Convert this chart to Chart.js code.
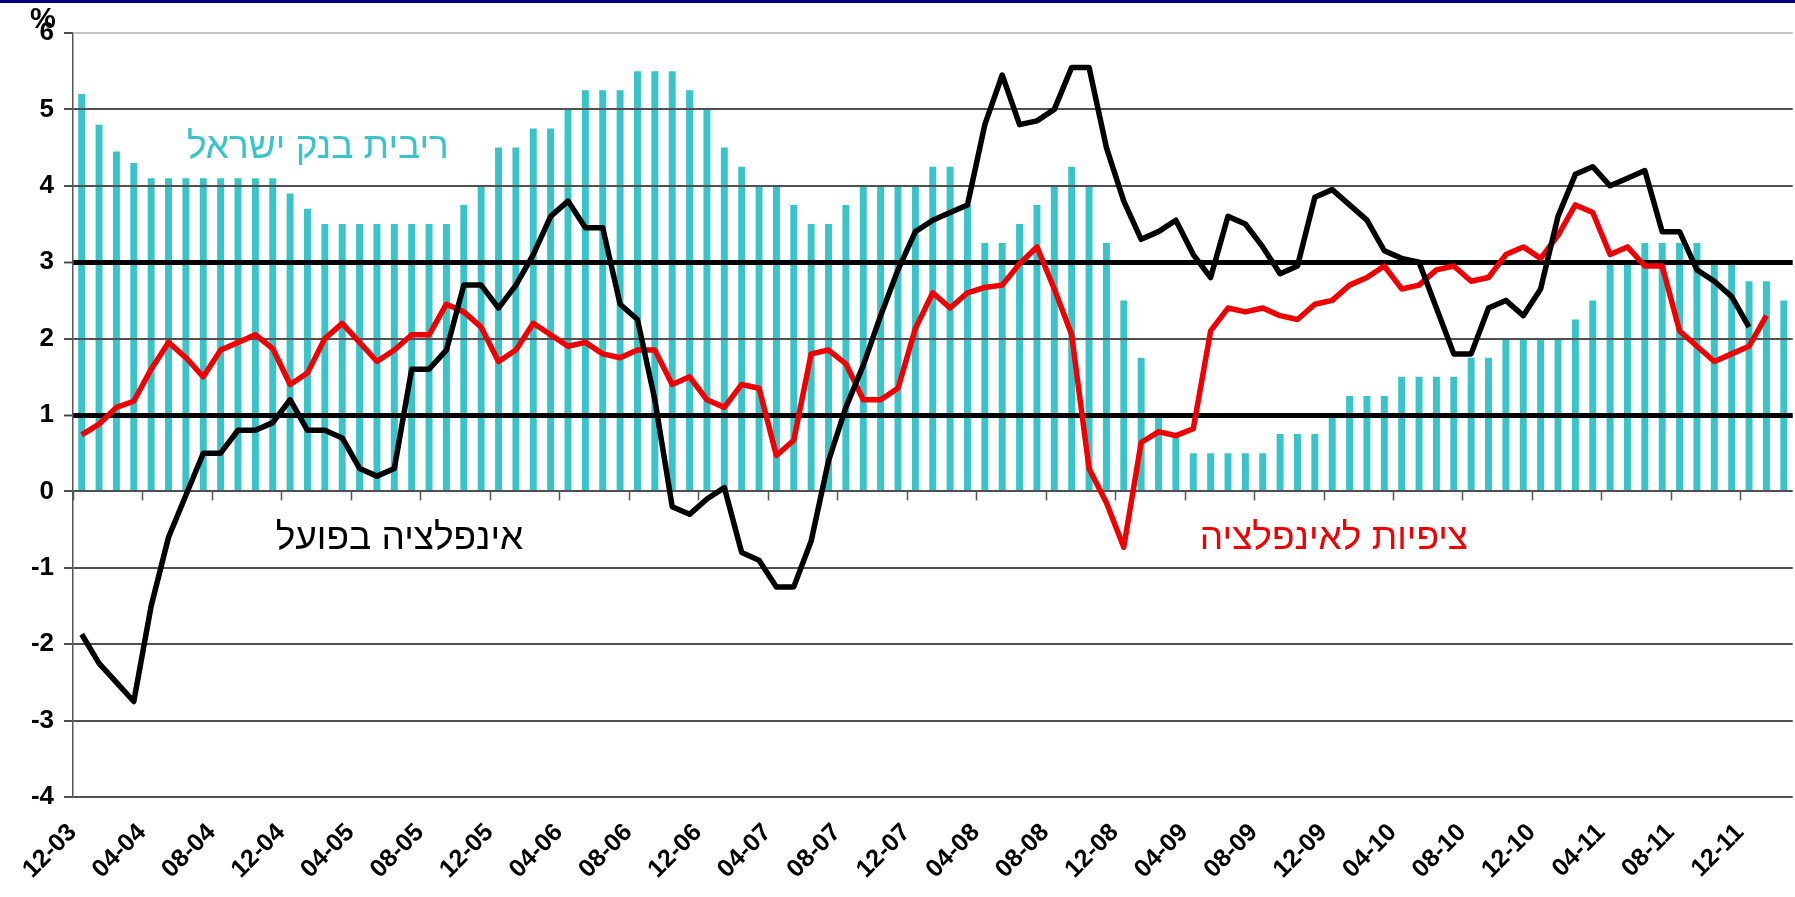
<!DOCTYPE html>
<html>
<head>
<meta charset="utf-8">
<script src="https://cdn.jsdelivr.net/npm/chart.js@4.4.1/dist/chart.umd.min.js"></script>
<style>
  html, body { margin: 0; padding: 0; background: #fff; overflow: hidden; }
  .top-band { position: absolute; left: 0; top: 0; width: 100%; height: 3px; background: #00007a; z-index: 2; }
  .chart-box { position: relative; width: 1826px; height: 897px; }
</style>
</head>
<body>
<div class="top-band"></div>
<div class="chart-box"><canvas id="rates-chart"></canvas></div>
<script>
// monthly, 12-03 .. 02-12
const months = [
  '12-03',
  '01-04', '02-04', '03-04', '04-04', '05-04', '06-04', '07-04', '08-04', '09-04', '10-04', '11-04', '12-04',
  '01-05', '02-05', '03-05', '04-05', '05-05', '06-05', '07-05', '08-05', '09-05', '10-05', '11-05', '12-05',
  '01-06', '02-06', '03-06', '04-06', '05-06', '06-06', '07-06', '08-06', '09-06', '10-06', '11-06', '12-06',
  '01-07', '02-07', '03-07', '04-07', '05-07', '06-07', '07-07', '08-07', '09-07', '10-07', '11-07', '12-07',
  '01-08', '02-08', '03-08', '04-08', '05-08', '06-08', '07-08', '08-08', '09-08', '10-08', '11-08', '12-08',
  '01-09', '02-09', '03-09', '04-09', '05-09', '06-09', '07-09', '08-09', '09-09', '10-09', '11-09', '12-09',
  '01-10', '02-10', '03-10', '04-10', '05-10', '06-10', '07-10', '08-10', '09-10', '10-10', '11-10', '12-10',
  '01-11', '02-11', '03-11', '04-11', '05-11', '06-11', '07-11', '08-11', '09-11', '10-11', '11-11', '12-11',
  '01-12', '02-12',
];

// Bank of Israel rate (bars)
const boiRate = [
  5.2,
  4.8, 4.45, 4.3, 4.1, 4.1, 4.1, 4.1, 4.1, 4.1, 4.1, 4.1, 3.9,
  3.7, 3.5, 3.5, 3.5, 3.5, 3.5, 3.5, 3.5, 3.5, 3.75, 4.0, 4.5,
  4.5, 4.75, 4.75, 5.0, 5.25, 5.25, 5.25, 5.5, 5.5, 5.5, 5.25, 5.0,
  4.5, 4.25, 4.0, 4.0, 3.75, 3.5, 3.5, 3.75, 4.0, 4.0, 4.0, 4.0,
  4.25, 4.25, 3.75, 3.25, 3.25, 3.5, 3.75, 4.0, 4.25, 4.0, 3.25, 2.5,
  1.75, 1.0, 0.75, 0.5, 0.5, 0.5, 0.5, 0.5, 0.75, 0.75, 0.75, 1.0,
  1.25, 1.25, 1.25, 1.5, 1.5, 1.5, 1.5, 1.75, 1.75, 2.0, 2.0, 2.0,
  2.0, 2.25, 2.5, 3.0, 3.0, 3.25, 3.25, 3.25, 3.25, 3.0, 3.0, 2.75,
  2.75, 2.5,
];

// actual inflation (black line)
const actualInflation = [
  -1.87,
  -2.25, -2.5, -2.75, -1.5, -0.6, -0.05, 0.5, 0.5, 0.8, 0.8, 0.9, 1.2,
  0.8, 0.8, 0.7, 0.3, 0.2, 0.3, 1.6, 1.6, 1.85, 2.7, 2.7, 2.4,
  2.7, 3.1, 3.6, 3.8, 3.45, 3.45, 2.45, 2.25, 1.2, -0.2, -0.3, -0.1,
  0.05, -0.8, -0.9, -1.25, -1.25, -0.65, 0.4, 1.1, 1.65, 2.3, 2.9, 3.4,
  3.55, 3.65, 3.75, 4.8, 5.45, 4.8, 4.85, 5.0, 5.55, 5.55, 4.5, 3.8,
  3.3, 3.4, 3.55, 3.1, 2.8, 3.6, 3.5, 3.2, 2.85, 2.95, 3.85, 3.95,
  3.75, 3.55, 3.15, 3.05, 3.0, 2.4, 1.8, 1.8, 2.4, 2.5, 2.3, 2.65,
  3.6, 4.15, 4.25, 4.0, 4.1, 4.2, 3.4, 3.4, 2.9, 2.75, 2.55, 2.15,
  null, null,
];

// inflation expectations (red line)
const expectedInflation = [
  0.74,
  0.88, 1.1, 1.18, 1.6, 1.95, 1.75, 1.5, 1.85, 1.95, 2.05, 1.87, 1.4,
  1.55, 2.0, 2.2, 1.95, 1.7, 1.85, 2.05, 2.05, 2.45, 2.35, 2.15, 1.7,
  1.85, 2.2, 2.05, 1.9, 1.95, 1.8, 1.75, 1.85, 1.85, 1.4, 1.5, 1.2,
  1.1, 1.4, 1.35, 0.47, 0.67, 1.8, 1.85, 1.67, 1.2, 1.2, 1.35, 2.13,
  2.6, 2.4, 2.6, 2.67, 2.7, 2.98, 3.2, 2.65, 2.05, 0.3, -0.15, -0.73,
  0.64, 0.78, 0.73, 0.82, 2.1, 2.4, 2.35, 2.4, 2.3, 2.25, 2.45, 2.5,
  2.7, 2.8, 2.95, 2.65, 2.7, 2.9, 2.95, 2.75, 2.8, 3.1, 3.2, 3.05,
  3.35, 3.75, 3.65, 3.1, 3.2, 2.95, 2.95, 2.1, 1.9, 1.7, 1.8, 1.9,
  2.3, null,
];

const targetBand = [1, 3]; // inflation target range, drawn as heavy grid lines

const seriesNames = ['ריבית בנק ישראל', 'אינפלציה בפועל', 'ציפיות לאינפלציה'];
const seriesColors = ['rgb(56, 196, 201)', '#000000', '#f00000'];

// where the in-chart names sit: [category index, value]
const nameAnchors = [[13.6, 4.5], [18.3, -0.62], [72.1, -0.62]];

const fontFamily = "'Liberation Sans', Arial, sans-serif";

// redraw the horizontal grid on top of the bars but under the lines
const gridOverBars = {
  id: 'gridOverBars',
  afterDatasetDraw(chart, args) {
    if (args.index !== 0) return;
    chart.ctx.save();
    chart.scales.y.drawGrid(chart.chartArea);
    chart.ctx.restore();
  },
};

// small tick marks hanging under the zero line, every 4 months
const zeroTicks = {
  id: 'zeroTicks',
  afterDatasetsDraw(chart) {
    const { ctx } = chart;
    const x = chart.scales.x;
    const y0 = chart.scales.y.getPixelForValue(0);
    const half = (x.getPixelForValue(1) - x.getPixelForValue(0)) / 2;
    ctx.save();
    ctx.strokeStyle = '#555';
    ctx.lineWidth = 1.5;
    months.forEach((m, i) => {
      if (i % 4 !== 0) return;
      const px = Math.round(x.getPixelForValue(i) - half) + 0.5;
      ctx.beginPath();
      ctx.moveTo(px, y0);
      ctx.lineTo(px, y0 + 9);
      ctx.stroke();
    });
    ctx.restore();
  },
};

const seriesLabels = {
  id: 'seriesLabels',
  afterDatasetsDraw(chart) {
    const { ctx } = chart;
    ctx.save();
    ctx.textAlign = 'center';
    ctx.textBaseline = 'middle';
    ctx.direction = 'rtl';
    seriesNames.forEach((name, i) => {
      const [cx, cy] = nameAnchors[i];
      ctx.font = `37px ${fontFamily}`;
      ctx.fillStyle = seriesColors[i];
      ctx.fillText(name, chart.scales.x.getPixelForValue(cx), chart.scales.y.getPixelForValue(cy));
    });
    // the "%" unit above the value axis
    ctx.direction = 'ltr';
    ctx.font = `bold 29px ${fontFamily}`;
    ctx.fillStyle = '#000';
    ctx.fillText('%', chart.scales.y.right - 30, chart.scales.y.top - 13);
    ctx.restore();
  },
};

const renderChart = () => {
  const canvas = document.getElementById('rates-chart');

  // eslint-disable-next-line no-new, no-undef
  new Chart(canvas, {
    type: 'bar',
    data: {
      labels: months,
      datasets: [
        {
          type: 'bar',
          label: seriesNames[0],
          data: boiRate,
          backgroundColor: seriesColors[0],
          borderWidth: 0,
          barPercentage: 0.4,
          categoryPercentage: 1.0,
          order: 3,
        },
        {
          type: 'line',
          label: seriesNames[2],
          data: expectedInflation,
          borderColor: seriesColors[2],
          borderWidth: 5.5,
          pointRadius: 0,
          tension: 0,
          borderJoinStyle: 'round',
          order: 2,
        },
        {
          type: 'line',
          label: seriesNames[1],
          data: actualInflation,
          borderColor: seriesColors[1],
          borderWidth: 5.5,
          pointRadius: 0,
          tension: 0,
          borderJoinStyle: 'round',
          order: 1,
        },
      ],
    },
    options: {
      responsive: true,
      maintainAspectRatio: false,
      animation: false,
      layout: { padding: { top: 33, right: 0, left: 0, bottom: 0 } },
      plugins: {
        legend: { display: false },
        tooltip: { enabled: false },
      },
      scales: {
        x: {
          offset: true,
          afterFit: (scale) => { scale.height = 100; },
          grid: { display: true, drawOnChartArea: false, drawTicks: false, offset: true },
          border: { display: false },
          ticks: {
            autoSkip: false,
            minRotation: 45,
            maxRotation: 45,
            padding: 21,
            labelOffset: -9,
            color: '#000',
            font: { family: fontFamily, size: 25, weight: 'bold' },
            callback: (value, index) => (index % 4 === 0 ? months[index] : ''),
          },
        },
        y: {
          min: -4,
          max: 6,
          afterFit: (scale) => { scale.width = 73; },
          border: { display: true, color: '#555', width: 1.5 },
          grid: {
            color: (c) => {
              if (targetBand.includes(c.tick.value)) return '#000';
              return c.tick.value === 6 ? '#c4c4c4' : '#505050';
            },
            lineWidth: (c) => (targetBand.includes(c.tick.value) ? 5 : 2),
            tickColor: '#444',
            tickWidth: 1.5,
            tickLength: 9,
          },
          ticks: {
            stepSize: 1,
            padding: 10,
            color: '#000',
            font: { family: fontFamily, size: 26, weight: 'bold' },
          },
        },
      },
    },
    plugins: [gridOverBars, zeroTicks, seriesLabels],
  });
};

renderChart();
</script>
</body>
</html>
